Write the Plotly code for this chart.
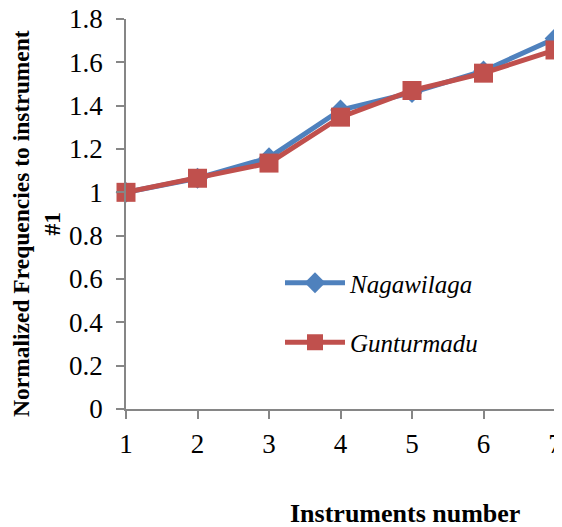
import plotly.graph_objects as go

instruments = [1, 2, 3, 4, 5, 6, 7]
nagawilaga = [1.0, 1.065, 1.16, 1.38, 1.46, 1.56, 1.71]
gunturmadu = [1.0, 1.065, 1.135, 1.347, 1.47, 1.55, 1.657]
y_ticks = [0, 0.2, 0.4, 0.6, 0.8, 1, 1.2, 1.4, 1.6, 1.8]
y_tick_labels = ["0", "0.2", "0.4", "0.6", "0.8", "1", "1.2", "1.4", "1.6", "1.8"]

FONT = "Liberation Serif"
OFF = 8  # page body margin
W, H = 562 - OFF, 527 - OFF
L, T = 126 - OFF, 19 - OFF
R = W - (555 - OFF)
B = H - (409 - OFF)
PW, PH = W - L - R, H - T - B


def px(xs):
    return (xs - OFF - L) / PW


def py(ys):
    return (H - B - (ys - OFF)) / PH


fig = go.Figure()
fig.add_trace(go.Scatter(
    x=instruments, y=nagawilaga, name="Nagawilaga", mode="lines+markers",
    line=dict(color="#4F81BD", width=5),
    marker=dict(symbol="diamond", size=16, color="#4F81BD"),
    legendgroup="a", cliponaxis=False,
))
fig.add_trace(go.Scatter(
    x=instruments, y=gunturmadu, name="Gunturmadu", mode="lines+markers",
    line=dict(color="#C0504D", width=5),
    marker=dict(symbol="square", size=19, color="#C0504D"),
    legendgroup="b", cliponaxis=False,
))

fig.update_layout(
    width=W, height=H,
    margin=dict(l=L, r=R, t=T, b=B),
    paper_bgcolor="white", plot_bgcolor="white",
    font=dict(family=FONT, size=25, color="black"),
    legend=dict(
        x=px(280), y=py(260), xanchor="left", yanchor="top",
        font=dict(family=FONT, size=25, style="italic", color="black"),
        bgcolor="rgba(0,0,0,0)", tracegroupgap=24, itemwidth=60,
        traceorder="grouped",
    ),
    xaxis=dict(
        range=[1, 7], tickvals=instruments, showgrid=False, zeroline=False,
        showline=True, linecolor="#868686", linewidth=1.5,
        ticks="outside", tickcolor="#868686", ticklen=8, tickwidth=1.5,
        tickfont=dict(family=FONT, size=27), automargin=False,
        ticklabeloverflow="allow", ticklabelstandoff=2,
    ),
    yaxis=dict(
        range=[0, 1.8], tickvals=y_ticks, ticktext=y_tick_labels,
        showgrid=False, zeroline=False,
        showline=True, linecolor="#868686", linewidth=1.5,
        ticks="outside", tickcolor="#868686", ticklen=8, tickwidth=1.5,
        tickfont=dict(family=FONT, size=27), automargin=False,
        ticklabeloverflow="allow", ticklabelstandoff=8,
    ),
    annotations=[
        dict(
            text="<b>Instruments number</b>", xref="paper", yref="paper",
            x=px(405), y=py(513), xanchor="center", yanchor="middle",
            showarrow=False, font=dict(family=FONT, size=26),
        ),
        dict(
            text="<b>Normalized Frequencies to instrument<br>#1</b>",
            xref="paper", yref="paper", textangle=-90,
            x=px(36), y=py(224), xanchor="center", yanchor="middle",
            showarrow=False, font=dict(family=FONT, size=23.5),
        ),
    ],
)

fig.write_html("out.html")
